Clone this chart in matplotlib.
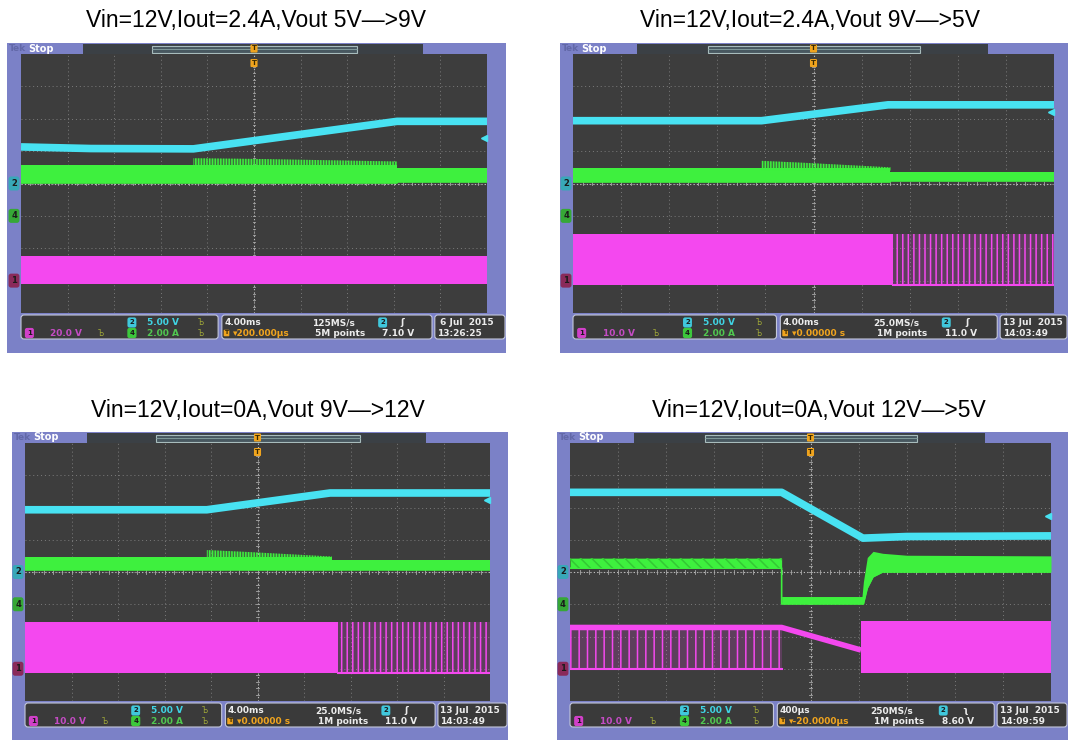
import numpy as np
import matplotlib.pyplot as plt
from matplotlib.patches import Rectangle, FancyBboxPatch

plt.rcParams['hatch.linewidth'] = 1.1

W, H = 1069, 740

# couleurs de l'oscillo
BLEU = '#7b81c7'
FOND = '#3d3d3d'
CYAN = '#48e2f2'
VERT = '#3ef03e'
MAGENTA = '#f448ef'
ORANGE = '#f0a41e'

titres = ['Vin=12V,Iout=2.4A,Vout 5V—>9V', 'Vin=12V,Iout=2.4A,Vout 9V—>5V',
          'Vin=12V,Iout=0A,Vout 9V—>12V', 'Vin=12V,Iout=0A,Vout 12V—>5V']
pos_titres = [(256, 20), (810, 20), (258, 410), (819, 410)]
# cadres et grilles en pixels (gauche, haut, droite, bas)
cadres = [(7, 43, 506, 353), (560, 43, 1068, 353), (12, 432, 508, 740), (557, 432, 1068, 740)]
grilles = [(21, 54, 487, 313), (573, 54, 1054, 313), (25, 443, 490, 701), (570, 443, 1051, 701)]

# masses des voies 2, 4, 1 (en divisions) et niveau de déclenchement
masses = [0, -1, -3]
declenchement = [1.40, 2.22, 2.23, 1.73]

# ---- capture 1 (x en divisions 0..10, y en divisions -4..4)
c1_t = [0, 1.5, 3.7, 8.07, 10]
c1_v = [1.13, 1.08, 1.07, 1.92, 1.92]
g1_t = [0, 3.7, 8.07, 8.07, 10]
g1_bas = [0.02, 0.02, 0.02, 0.05, 0.05]
g1_haut = [0.57, 0.57, 0.57, 0.47, 0.47]
pic1_t = [3.7, 5.0, 8.07]
pic1_bas = [0.5, 0.5, 0.5]
pic1_haut = [0.78, 0.76, 0.68]
m1_t = [0, 10]
m1_bas = [-3.10, -3.10]
m1_haut = [-2.23, -2.23]

# ---- capture 2
c2_t = [0, 3.92, 6.55, 10]
c2_v = [1.94, 1.94, 2.43, 2.43]
g2_t = [0, 6.6, 6.6, 10]
g2_bas = [0.06, 0.06, 0.09, 0.09]
g2_haut = [0.47, 0.47, 0.37, 0.37]
pic2_t = [3.92, 4.8, 6.6]
pic2_bas = [0.4, 0.4, 0.4]
pic2_haut = [0.70, 0.64, 0.50]
m2_t = [0, 6.65]
m2_bas = [-3.13, -3.13]
m2_haut = [-1.56, -1.56]
imp2_t = [6.65, 10]
imp2_bas = [-3.13, -3.13]
imp2_haut = [-1.56, -1.56]

# ---- capture 3
c3_t = [0, 3.91, 6.56, 10]
c3_v = [1.93, 1.93, 2.45, 2.45]
g3_t = [0, 6.6, 6.6, 10]
g3_bas = [0.05, 0.05, 0.07, 0.07]
g3_haut = [0.46, 0.46, 0.38, 0.38]
pic3_t = [3.91, 4.8, 6.6]
pic3_bas = [0.4, 0.4, 0.4]
pic3_haut = [0.68, 0.62, 0.48]
m3_t = [0, 6.74]
m3_bas = [-3.14, -3.14]
m3_haut = [-1.56, -1.56]
imp3_t = [6.74, 10]
imp3_bas = [-3.14, -3.14]
imp3_haut = [-1.56, -1.56]

# ---- capture 4
c4_t = [0, 4.40, 6.09, 7.0, 10]
c4_v = [2.47, 2.47, 1.05, 1.10, 1.12]
g4_t = [0, 4.40, 4.40, 6.07, 6.10, 6.18, 6.30, 6.50, 7.0, 10]
g4_bas = [0.12, 0.12, -0.99, -0.99, -0.99, -0.50, -0.15, 0.0, 0.0, 0.0]
g4_haut = [0.43, 0.43, -0.76, -0.76, -0.30, 0.45, 0.64, 0.58, 0.52, 0.50]
m4_t = [6.05, 10]
m4_bas = [-3.12, -3.12]
m4_haut = [-1.53, -1.53]
imp4_t = [0, 4.40]
imp4_bas = [-3.0, -3.0]
imp4_haut = [-1.72, -1.72]
l4_t = [0, 4.40, 6.05]
l4_v = [-1.72, -1.72, -2.42]

statut1 = ['20.0 V', '5.00 V', '2.00 A', '4.00ms', '125MS/s', 'ʃ', '▾200.000µs',
           '5M points', '7.10 V', ' 6 Jul  2015', '13:26:25']
statut2 = ['10.0 V', '5.00 V', '2.00 A', '4.00ms', '25.0MS/s', 'ʃ', '▾0.00000 s',
           '1M points', '11.0 V', '13 Jul  2015', '14:03:49']
statut3 = ['10.0 V', '5.00 V', '2.00 A', '4.00ms', '25.0MS/s', 'ʃ', '▾0.00000 s',
           '1M points', '11.0 V', '13 Jul  2015', '14:03:49']
statut4 = ['10.0 V', '5.00 V', '2.00 A', '400µs', '250MS/s', 'ʅ', '▾-20.0000µs',
           '1M points', '8.60 V', '13 Jul  2015', '14:09:59']

fig = plt.figure(figsize=(W / 100, H / 100), dpi=100)
fig.patch.set_facecolor('white')


def nu(ax):
    for s in ax.spines.values():
        s.set_visible(False)
    ax.set_xticks([])
    ax.set_yticks([])


def pastille(ax, x, y, txt, fc, taille=5.5):
    ax.text(x, y, txt, fontsize=taille, color='#1a1a1a', ha='center', va='center',
            fontweight='bold', bbox=dict(boxstyle='round,pad=0.3', fc=fc, ec='none'))


def panneau(k, statut, cyan, vert, pics, mag, imp=None, dens='|||', ligne=None):
    fl, ft, fr, fb = cadres[k]
    gl, gt, gr, gb = grilles[k]
    fw, fh = fr - fl, fb - ft
    x0, y0, gw, gh = gl - fl, gt - ft, gr - gl, gb - gt

    fig.text(pos_titres[k][0] / W, 1 - pos_titres[k][1] / H, titres[k], fontsize=16.5,
             ha='center', va='center', family='Liberation Sans')

    axf = fig.add_axes([fl / W, 1 - fb / H, fw / W, fh / H])
    axf.set_xlim(0, fw)
    axf.set_ylim(fh, 0)
    axf.set_facecolor(BLEU)
    nu(axf)

    # barre du haut
    axf.text(2, y0 / 2, 'Tek', color='#6268a8', fontsize=6.5, va='center', fontweight='bold')
    axf.text(21, y0 / 2, 'Stop', color='white', fontsize=7, va='center', fontweight='bold')
    axf.add_patch(Rectangle((x0 + 0.133 * gw, 1), 0.73 * gw, y0 - 1, fc='#3b4045', ec='none'))
    axf.add_patch(Rectangle((x0 + 0.281 * gw, 2.5), 0.44 * gw, y0 - 4, fc='#485860',
                            ec='#a8bcbc', lw=0.8))
    axf.plot([x0 + 0.281 * gw, x0 + 0.721 * gw], [y0 / 2 + 0.5] * 2, color='#8aa4a4', lw=0.6)
    axf.text(x0 + gw / 2, y0 / 2, 'T', fontsize=5, color='#3a2a00', ha='center', va='center',
             fontweight='bold', bbox=dict(boxstyle='round,pad=0.15', fc=ORANGE, ec='none'))

    # barre d'état
    yb = gb - ft + 2
    hb = 24
    boites = [(0.0, 0.423), (0.431, 0.882), (0.888, 1.04)]
    for a, b in boites:
        xa = x0 + a * gw
        xb = min(x0 + b * gw, fw - 1)
        axf.add_patch(FancyBboxPatch((xa, yb), xb - xa, hb,
                                     boxstyle='round,pad=0,rounding_size=3',
                                     fc='#3a3a3a', ec='#c4c8dc', lw=0.8))
    r1, r2 = yb + 7.5, yb + 18
    px = lambda f: x0 + f * gw
    st = dict(fontsize=6.5, va='center', fontweight='bold')
    pastille(axf, px(0.238), r1, '2', '#40c8dc', 5)
    axf.text(px(0.271), r1, statut[1], color='#40d4e4', **st)
    axf.text(px(0.38), r1, 'Ъ', color='#a0a838', fontsize=5.5, va='center')
    axf.text(px(0.436), r1, statut[3], color='#ececec', **st)
    axf.text(px(0.624), r1, statut[4], color='#ececec', **st)
    pastille(axf, px(0.776), r1, '2', '#40c8dc', 5)
    axf.text(px(0.815), r1, statut[5], color='#ececec', **st)
    axf.text(px(0.893), r1, statut[9], color='#ececec', **st)

    pastille(axf, px(0.018), r2, '1', '#d040c8', 5)
    axf.text(px(0.062), r2, statut[0], color='#c44cc4', **st)
    axf.text(px(0.165), r2, 'Ъ', color='#a0a838', fontsize=5.5, va='center')
    pastille(axf, px(0.238), r2, '4', '#3cc83c', 5)
    axf.text(px(0.271), r2, statut[2], color='#50c850', **st)
    axf.text(px(0.38), r2, 'Ъ', color='#a0a838', fontsize=5.5, va='center')
    axf.text(px(0.441), r2, 'T', fontsize=4.5, color='#3a2a00', ha='center', va='center',
             fontweight='bold', bbox=dict(boxstyle='round,pad=0.12', fc=ORANGE, ec='none'))
    axf.text(px(0.455), r2, statut[6], color=ORANGE, **st)
    axf.text(px(0.631), r2, statut[7], color='#ececec', **st)
    axf.text(px(0.774), r2, statut[8], color='#ececec', **st)
    axf.text(px(0.893), r2, statut[10], color='#ececec', **st)

    # repères des voies à gauche
    for niv, num, coul in zip(masses, ['2', '4', '1'], ['#38a8b8', '#36a836', '#8a2a5a']):
        yy = y0 + (4 - niv) / 8 * gh
        pastille(axf, x0 - 7, yy, num, coul, 6)

    # grille
    axg = fig.add_axes([gl / W, 1 - gb / H, gw / W, gh / H])
    axg.set_xlim(0, 10)
    axg.set_ylim(-4, 4)
    axg.set_facecolor(FOND)
    nu(axg)
    for x in range(1, 10):
        axg.axvline(x, color='#7c7c7c', lw=0.7, ls=(0, (1, 3)), zorder=1)
    for y in range(-3, 4):
        axg.axhline(y, color='#7c7c7c', lw=0.7, ls=(0, (1, 3)), zorder=1)
    axg.axvline(5, color='#c0c0c0', lw=0.8, ls=(0, (1, 2)), zorder=1)
    axg.axhline(0, color='#c0c0c0', lw=0.8, ls=(0, (1, 2)), zorder=1)
    for x in np.arange(0.2, 10, 0.2):
        axg.plot([x, x], [-0.06, 0.06], color='#a8a8a8', lw=0.6, zorder=1)
    for y in np.arange(-3.8, 4, 0.2):
        axg.plot([4.97, 5.03], [y, y], color='#a8a8a8', lw=0.6, zorder=1)

    # traces
    axg.fill_between(*mag, color=MAGENTA, lw=0, zorder=3)
    if imp is not None:
        axg.fill_between(*imp, facecolor=(0.95, 0.3, 0.93, 0.18), edgecolor=MAGENTA,
                         hatch=dens, lw=0, zorder=3)
        axg.plot(imp[0], imp[1], color=MAGENTA, lw=1.5, zorder=3)
    if ligne is not None:
        axg.plot(*ligne, color=MAGENTA, lw=4, solid_capstyle='butt', zorder=3)
    axg.fill_between(*vert, color=VERT, lw=0, zorder=4)
    axg.plot(vert[0], vert[1], color=VERT, lw=1.2, zorder=4)
    if pics is not None:
        axg.fill_between(*pics, facecolor=(0.24, 0.94, 0.24, 0.25), edgecolor=VERT,
                         hatch='||||||', lw=0, zorder=4)
    else:
        axg.fill_between(vert[0][:2], vert[1][:2], vert[2][:2], facecolor='none',
                         edgecolor='#34c834', hatch='\\\\\\', lw=0, zorder=4)
    axg.plot(*cyan, color=CYAN, lw=5.5, solid_capstyle='butt', zorder=5)

    axg.plot(9.93, declenchement[k], marker='<', color=CYAN, ms=4, clip_on=False, zorder=6)
    axg.text(5, 3.72, 'T', fontsize=5, color='#3a2a00', ha='center', va='center',
             fontweight='bold', zorder=6,
             bbox=dict(boxstyle='round,pad=0.15', fc=ORANGE, ec='none'))


panneau(0, statut1, (c1_t, c1_v), (g1_t, g1_bas, g1_haut), (pic1_t, pic1_bas, pic1_haut),
        (m1_t, m1_bas, m1_haut))
panneau(1, statut2, (c2_t, c2_v), (g2_t, g2_bas, g2_haut), (pic2_t, pic2_bas, pic2_haut),
        (m2_t, m2_bas, m2_haut), (imp2_t, imp2_bas, imp2_haut), '|||')
panneau(2, statut3, (c3_t, c3_v), (g3_t, g3_bas, g3_haut), (pic3_t, pic3_bas, pic3_haut),
        (m3_t, m3_bas, m3_haut), (imp3_t, imp3_bas, imp3_haut), '|||')
panneau(3, statut4, (c4_t, c4_v), (g4_t, g4_bas, g4_haut), None,
        (m4_t, m4_bas, m4_haut), (imp4_t, imp4_bas, imp4_haut), '||', (l4_t, l4_v))

fig.savefig('out.png', dpi=100)
